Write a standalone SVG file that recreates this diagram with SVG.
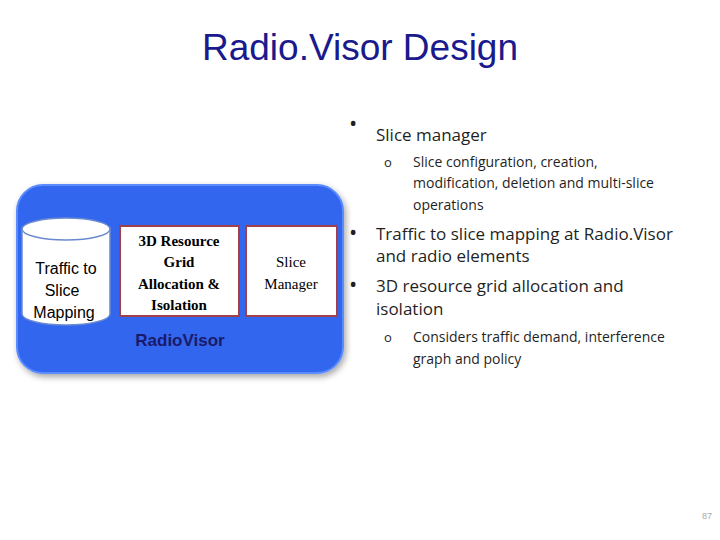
<svg xmlns="http://www.w3.org/2000/svg" width="720" height="540" viewBox="0 0 720 540">
<defs>
<style>
.t{font-family:"Liberation Sans",Arial,sans-serif}
.s{font-family:"Liberation Serif","Times New Roman",serif;font-size:15px;text-anchor:middle}
.b{font-family:"Open Sans","DejaVu Sans",sans-serif;fill:#1f1f1f}
.box{fill:#fff;stroke:#a0404a;stroke-width:2}
</style>
<filter id="sh" x="-10%" y="-10%" width="130%" height="130%"><feDropShadow dx="2" dy="3" stdDeviation="3" flood-color="#000" flood-opacity="0.35"/></filter>
</defs>
<rect width="720" height="540" fill="#fff"/>
<text class="t" x="360" y="60" font-size="37" fill="#1a1a8c" text-anchor="middle">Radio.Visor Design</text>
<g id="radiovisor">
<rect x="17" y="185" width="326" height="188" rx="26" fill="#3366ee" stroke="#5a8cff" stroke-width="2" filter="url(#sh)"/>
<text class="t" x="180" y="346" font-size="17" font-weight="bold" fill="#1a1a6a" text-anchor="middle">RadioVisor</text>
</g>
<g id="cylinder">
<path d="M22 229 V314 A44 11 0 0 0 110 314 V229" fill="#fff" stroke="#6a8ad0" stroke-width="1.5"/>
<ellipse cx="66" cy="229" rx="44" ry="11" fill="#fff" stroke="#6a8ad0" stroke-width="1.5"/>
<text class="t" font-size="16" text-anchor="middle" fill="#000"><tspan x="66" y="274">Traffic to</tspan><tspan x="62" y="296">Slice</tspan><tspan x="64" y="318">Mapping</tspan></text>
</g>
<g id="grid">
<rect class="box" x="120" y="226" width="119" height="90"/>
<text class="s" font-weight="bold"><tspan x="179" y="246">3D Resource</tspan><tspan x="179" y="267">Grid</tspan><tspan x="179" y="289">Allocation &amp;</tspan><tspan x="179" y="310">Isolation</tspan></text>
</g>
<g id="manager">
<rect class="box" x="246" y="226" width="91" height="90"/>
<text class="s"><tspan x="291" y="267">Slice</tspan><tspan x="291" y="289">Manager</tspan></text>
</g>
<g id="connectors"></g>
<g class="b">
<text x="349" y="131" font-size="22">•</text>
<text x="376" y="141" font-size="17">Slice manager</text>
<text x="384" y="167" font-size="13">o</text>
<text font-size="14"><tspan x="413" y="167">Slice configuration, creation,</tspan><tspan x="413" y="188">modification, deletion and multi-slice</tspan><tspan x="413" y="210">operations</tspan></text>
<text x="349" y="240" font-size="22">•</text>
<text font-size="17"><tspan x="376" y="240">Traffic to slice mapping at Radio.Visor</tspan><tspan x="376" y="262">and radio elements</tspan></text>
<text x="349" y="292" font-size="22">•</text>
<text font-size="17"><tspan x="376" y="292">3D resource grid allocation and</tspan><tspan x="376" y="315">isolation</tspan></text>
<text x="384" y="342" font-size="13">o</text>
<text font-size="14"><tspan x="413" y="342">Considers traffic demand, interference</tspan><tspan x="413" y="364">graph and policy</tspan></text>
</g>
<text class="t" x="712" y="519" font-size="9" fill="#aaa" text-anchor="end">87</text>
</svg>
